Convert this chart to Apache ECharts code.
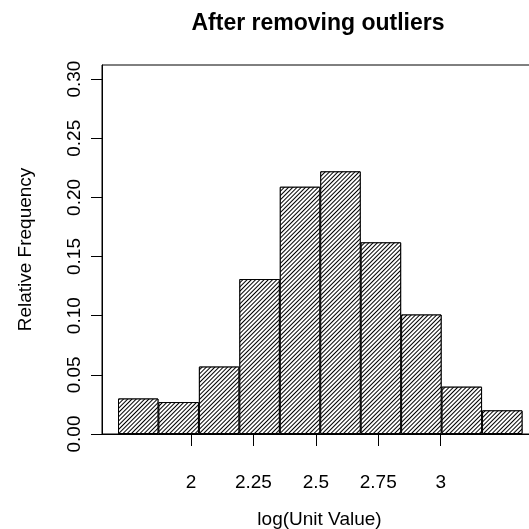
<!DOCTYPE html>
<html>
<head>
<meta charset="utf-8">
<script src="https://cdn.jsdelivr.net/npm/echarts@6/dist/echarts.min.js"></script>
<style>html,body{margin:0;padding:0;background:#fff}#c{width:529px;height:529px}</style>
</head>
<body>
<div id="c"></div>
<script>
// Data
const binIndex = ['1','2','3','4','5','6','7','8','9','10'];
const relFreq = [0.030, 0.027, 0.057, 0.131, 0.209, 0.222, 0.162, 0.101, 0.040, 0.020];
const xTicks = [2, 2.25, 2.5, 2.75, 3];
const yTicks = [0, 0.05, 0.10, 0.15, 0.20, 0.25, 0.30];

const FONT = 'Liberation Sans, Arial, Helvetica, sans-serif';
const Y_MAX = 0.3119;
const chart = echarts.init(document.getElementById('c'), null, {renderer: 'canvas'});
chart.setOption({
  animation: false,
  backgroundColor: '#fff',
  title: {
    text: 'After removing outliers',
    left: 313, top: 7, textAlign: 'center',
    textStyle: {fontFamily: FONT, fontSize: 23, fontWeight: 'bold', color: '#000'}
  },
  grid: [
    {left: 102, right: -8, top: 65, bottom: 95, show: true, borderColor: '#000', borderWidth: 1,
     backgroundColor: 'transparent', outerBoundsMode: 'none', containLabel: false},
    {left: 118, right: 6.5, top: 65, bottom: 95, outerBoundsMode: 'none', containLabel: false}
  ],
  xAxis: [
    {
      gridIndex: 0, type: 'value', min: 1.6436, max: 3.3857, offset: 11.4,
      position: 'bottom',
      axisLine: {show: true, lineStyle: {color: '#000', width: 1}},
      axisTick: {show: true, length: 12, customValues: xTicks, lineStyle: {color: '#000'}},
      axisLabel: {customValues: xTicks, margin: 28, fontFamily: FONT, fontSize: 19, color: '#000'},
      splitLine: {show: false},
      name: 'log(Unit Value)', nameLocation: 'middle', nameGap: 65,
      nameTextStyle: {fontFamily: FONT, fontSize: 19, color: '#000'}
    },
    {
      gridIndex: 1, type: 'category', data: binIndex, boundaryGap: true,
      axisLine: {show: false}, axisTick: {show: false}, axisLabel: {show: false}, splitLine: {show: false}
    }
  ],
  yAxis: [
    {
      gridIndex: 0, type: 'value', min: 0, max: Y_MAX,
      axisLine: {show: true, lineStyle: {color: '#000', width: 1}},
      axisTick: {show: true, length: 11, customValues: yTicks, lineStyle: {color: '#000'}},
      axisLabel: {customValues: yTicks, rotate: 90, margin: 18, fontFamily: FONT, fontSize: 19, color: '#000',
        formatter: v => v.toFixed(2)},
      splitLine: {show: false},
      name: 'Relative Frequency', nameLocation: 'middle', nameGap: 67,
      nameTextStyle: {fontFamily: FONT, fontSize: 19, color: '#000'}
    },
    {
      gridIndex: 1, type: 'value', min: 0, max: Y_MAX, show: false, splitLine: {show: false}
    }
  ],
  series: [{
    type: 'bar', xAxisIndex: 1, yAxisIndex: 1,
    data: relFreq, barWidth: '100%', barGap: '0%', barCategoryGap: '0%',
    itemStyle: {
      color: '#fff', borderColor: '#000', borderWidth: 1,
      decal: {
        symbol: 'rect', symbolSize: 1, color: '#000', backgroundColor: '#fff',
        dashArrayX: [1, 0], dashArrayY: [1, 2], rotation: -Math.PI / 4
      }
    }
  }]
});
</script>
</body>
</html>
